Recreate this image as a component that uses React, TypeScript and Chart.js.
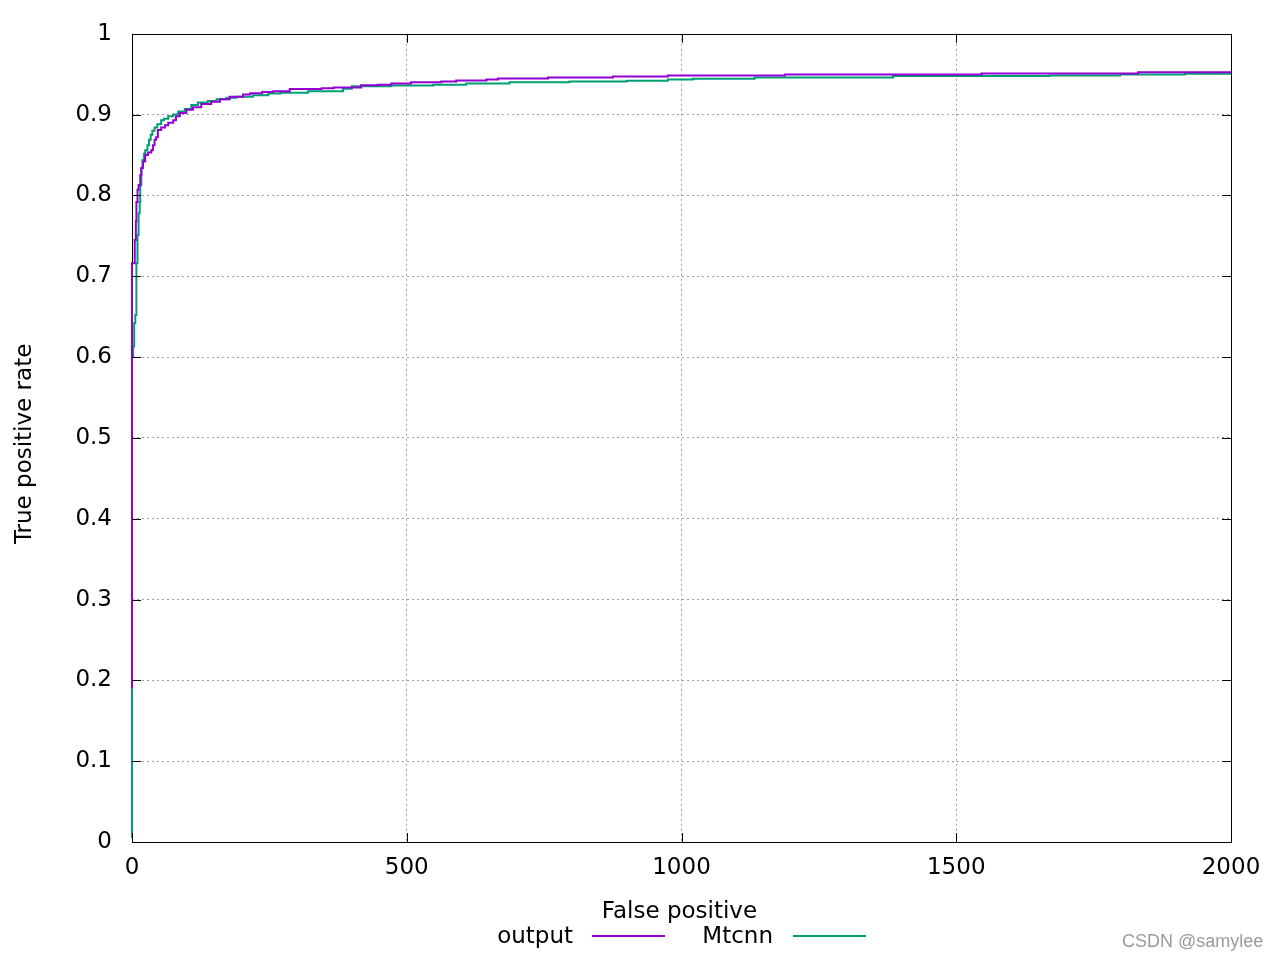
import React, { useEffect, useRef } from "react";
import { Chart, registerables } from "chart.js";

Chart.register(...registerables);

// ---- data ----
const outputFP = [
  0, 0, 5, 7, 8, 10, 12, 15, 17, 20, 24, 29, 35, 38, 41, 44, 47, 53, 60, 66, 75, 80, 87, 99, 111, 126,
  144, 160, 178, 202, 215, 237, 257, 287, 345, 367, 417, 447, 472, 508, 563, 590, 645, 666, 757, 875,
  975, 1188, 1546, 1831, 2000,
];
const outputTPR = [
  0.19, 0.716, 0.745, 0.768, 0.792, 0.807, 0.813, 0.825, 0.834, 0.842, 0.85, 0.853, 0.856, 0.862,
  0.869, 0.872, 0.881, 0.884, 0.887, 0.89, 0.893, 0.898, 0.902, 0.906, 0.909, 0.913, 0.916, 0.919,
  0.922, 0.925, 0.9265, 0.928, 0.929, 0.9317, 0.9325, 0.9337, 0.9364, 0.937, 0.9385, 0.94, 0.941,
  0.9423, 0.9435, 0.9448, 0.946, 0.9472, 0.9485, 0.9497, 0.951, 0.9523, 0.9523,
];
const mtcnnFP = [
  0, 0, 2, 4, 6, 8, 10, 12, 14, 15, 17, 19, 22, 24, 28, 31, 34, 37, 41, 46, 53, 58, 66, 75, 84, 96,
  108, 120, 138, 154, 172, 190, 220, 248, 270, 320, 384, 400, 472, 548, 608, 687, 796, 900, 975, 1021,
  1133, 1385, 1670, 1798, 1916, 2000,
];
const mtcnnTPR = [
  0.005, 0.6, 0.613, 0.642, 0.652, 0.716, 0.751, 0.778, 0.792, 0.813, 0.834, 0.844, 0.852, 0.856,
  0.862, 0.869, 0.875, 0.88, 0.884, 0.888, 0.893, 0.895, 0.898, 0.9, 0.904, 0.907, 0.912, 0.915, 0.917,
  0.919, 0.921, 0.922, 0.924, 0.926, 0.927, 0.929, 0.932, 0.935, 0.936, 0.937, 0.9385, 0.94, 0.941,
  0.942, 0.9435, 0.9445, 0.946, 0.9477, 0.9485, 0.9497, 0.9505, 0.9505,
];

const seriesNames = ["output", "Mtcnn"];
const seriesColors = ["#9400d3", "#009e73"];

const xTickValues = [0, 500, 1000, 1500, 2000];
const xTickLabels = ["0", "500", "1000", "1500", "2000"];
const yTickValues = [0, 0.1, 0.2, 0.3, 0.4, 0.5, 0.6, 0.7, 0.8, 0.9, 1];
const yTickLabels = ["0", "0.1", "0.2", "0.3", "0.4", "0.5", "0.6", "0.7", "0.8", "0.9", "1"];

const xTitle = "False positive";
const yTitle = "True positive rate";
const watermark = "CSDN @samylee";

const FONT = "'DejaVu Sans', 'Noto Sans', sans-serif";

const decorPlugin = {
  id: "decor",
  beforeDatasetsDraw(chart: any) {
    const { ctx, chartArea } = chart;
    const { left, right, top, bottom } = chartArea;
    ctx.save();
    ctx.strokeStyle = "#000";
    ctx.lineWidth = 1;
    ctx.setLineDash([]);
    ctx.strokeRect(Math.round(left) + 0.5, Math.round(top) + 0.5, Math.round(right - left), Math.round(bottom - top));
    ctx.restore();
  },
  afterDatasetsDraw(chart: any) {
    const { ctx, chartArea, scales } = chart;
    const { left, right, top, bottom } = chartArea;
    ctx.save();
    ctx.strokeStyle = "#000";
    ctx.lineWidth = 1;
    ctx.setLineDash([]);
    // inward ticks (mirrored)
    const tl = 9;
    ctx.beginPath();
    xTickValues.forEach((v) => {
      const px = Math.round(scales.x.getPixelForValue(v)) + 0.5;
      ctx.moveTo(px, bottom);
      ctx.lineTo(px, bottom - tl);
      ctx.moveTo(px, top);
      ctx.lineTo(px, top + tl);
    });
    yTickValues.forEach((v) => {
      const py = Math.round(scales.y.getPixelForValue(v)) + 0.5;
      ctx.moveTo(left, py);
      ctx.lineTo(left + tl, py);
      ctx.moveTo(right, py);
      ctx.lineTo(right - tl, py);
    });
    ctx.stroke();
    ctx.restore();
  },
  afterDraw(chart: any) {
    const { ctx, chartArea } = chart;
    const { left, right, top, bottom } = chartArea;
    ctx.save();
    ctx.fillStyle = "#000";
    ctx.font = `23px ${FONT}`;
    // x title
    ctx.textAlign = "center";
    ctx.textBaseline = "alphabetic";
    ctx.fillText(xTitle, (left + right) / 2 - 2, 918);
    // y title
    ctx.save();
    ctx.translate(30.5, (top + bottom) / 2 + 6);
    ctx.rotate(-Math.PI / 2);
    ctx.fillText(yTitle, 0, 0);
    ctx.restore();
    // legend
    const legendItems = [
      { textRight: 573, lineStart: 592, lineEnd: 665 },
      { textRight: 773, lineStart: 793, lineEnd: 866 },
    ];
    legendItems.forEach((it, i) => {
      ctx.textAlign = "right";
      ctx.fillStyle = "#000";
      ctx.fillText(seriesNames[i], it.textRight, 943);
      ctx.strokeStyle = seriesColors[i];
      ctx.lineWidth = 2;
      ctx.beginPath();
      ctx.moveTo(it.lineStart, 936);
      ctx.lineTo(it.lineEnd, 936);
      ctx.stroke();
    });
    // watermark
    ctx.font = "18px 'Liberation Sans', Arial, sans-serif";
    ctx.textAlign = "left";
    ctx.fillStyle = "#9a9a9a";
    ctx.fillText(watermark, 1122, 947);
    ctx.restore();
  },
};

export default function App() {
  const canvasRef = useRef<HTMLCanvasElement | null>(null);

  useEffect(() => {
    if (!canvasRef.current) return;
    const gridColor = (max: number) => (c: any) => {
      const v = c.tick ? c.tick.value : 0;
      return v > 0 && v < max ? "#a0a0a0" : "rgba(0,0,0,0)";
    };
    const chart = new Chart(canvasRef.current, {
      type: "line",
      data: {
        datasets: [
          {
            label: seriesNames[0],
            data: outputFP.map((x, i) => ({ x, y: outputTPR[i] })),
            borderColor: seriesColors[0],
            backgroundColor: seriesColors[0],
            borderWidth: 2,
            pointRadius: 0,
            stepped: "before",
            fill: false,
            clip: 4,
          },
          {
            label: seriesNames[1],
            data: mtcnnFP.map((x, i) => ({ x, y: mtcnnTPR[i] })),
            borderColor: seriesColors[1],
            backgroundColor: seriesColors[1],
            borderWidth: 2,
            pointRadius: 0,
            stepped: "before",
            fill: false,
            clip: 4,
          },
        ],
      },
      options: {
        responsive: false,
        animation: false,
        events: [],
        layout: { padding: { left: 0, top: 32, right: 49, bottom: 0 } },
        plugins: { legend: { display: false }, tooltip: { enabled: false }, title: { display: false } },
        scales: {
          x: {
            type: "linear",
            min: 0,
            max: 2000,
            afterFit: (s: any) => {
              s.height = 118;
            },
            afterBuildTicks: (s: any) => {
              s.ticks = xTickValues.map((value) => ({ value }));
            },
            ticks: {
              callback: (_v: any, i: number) => xTickLabels[i],
              font: { family: FONT, size: 23 },
              color: "#000",
              padding: 12,
              maxRotation: 0,
              autoSkip: false,
            },
            grid: { color: gridColor(2000), lineWidth: 1, drawTicks: false },
            border: { display: false, dash: [2, 3] },
          },
          y: {
            type: "linear",
            min: 0,
            max: 1,
            afterFit: (s: any) => {
              s.width = 132;
            },
            afterBuildTicks: (s: any) => {
              s.ticks = yTickValues.map((value) => ({ value }));
            },
            ticks: {
              callback: (_v: any, i: number) => yTickLabels[i],
              font: { family: FONT, size: 23 },
              color: "#000",
              padding: 20,
              autoSkip: false,
            },
            grid: { color: gridColor(1), lineWidth: 1, drawTicks: false },
            border: { display: false, dash: [2, 3] },
          },
        },
      },
      plugins: [decorPlugin],
    });
    return () => chart.destroy();
  }, []);

  return (
    <div style={{ position: "absolute", left: 0, top: 0, width: 1280, height: 960, background: "#fff" }}>
      <canvas ref={canvasRef} width={1280} height={960} style={{ display: "block" }} />
    </div>
  );
}
